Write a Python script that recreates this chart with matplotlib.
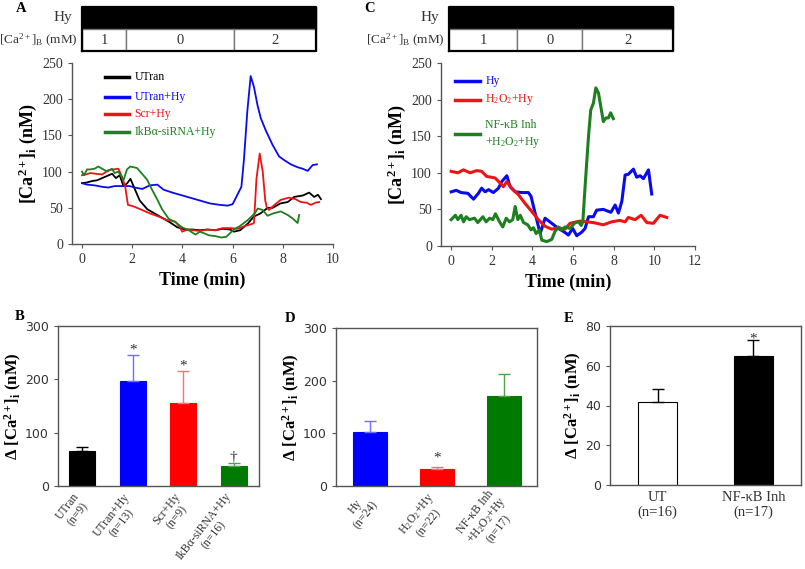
import numpy as np
import matplotlib
matplotlib.use("Agg")
import matplotlib.pyplot as plt

plt.rcParams.update({
    "font.family": ["Liberation Serif", "DejaVu Serif"],
    "mathtext.fontset": "custom",
    "mathtext.rm": "Liberation Serif",
    "mathtext.it": "Liberation Serif:italic",
    "mathtext.bf": "Liberation Serif:bold",
    "axes.linewidth": 1.0,
    "xtick.direction": "out",
    "ytick.direction": "out",
})

BLUE = "#0a0aee"
RED = "#ee1414"
GREEN = "#1e7f1e"
TXT = "#333333"
SPINE = "#555555"

# ---------------- panel A traces ----------------
a_black_t = [0, 0.2, 0.4, 0.6, 0.8, 1.0, 1.2, 1.35, 1.5, 1.65, 1.8, 1.93, 2.1, 2.3, 2.6, 2.9,
             3.2, 3.5, 3.8, 4.1, 4.4, 4.7, 5.0, 5.3, 5.6, 5.9, 6.05, 6.3, 6.6, 6.85, 7.1, 7.4,
             7.6, 7.9, 8.2, 8.45, 8.8, 9.05, 9.25, 9.4, 9.52]
a_black_y = [84, 85, 87, 88, 91, 94, 97, 91, 95, 80, 84, 90, 76, 60, 48, 42,
             36, 30, 23, 20, 20, 19, 20, 19, 21, 20, 17, 19, 28, 38, 42, 50,
             50, 56, 58, 65, 67, 71, 65, 68, 62]

a_blue_t = [0, 0.2, 0.5, 0.8, 1.05, 1.3, 1.6, 1.9, 2.1, 2.4, 2.7, 3.0, 3.25, 3.6, 4.0, 4.4,
            4.8, 5.1, 5.5, 5.8, 6.0, 6.19, 6.35, 6.45, 6.59, 6.72, 6.85, 6.99, 7.12, 7.32,
            7.59, 7.85, 8.05, 8.32, 8.59, 8.79, 8.99, 9.19, 9.36]
a_blue_y = [84, 82, 81, 79, 78, 80, 80, 80, 78, 76, 81, 82, 75, 71, 67, 63,
            59, 56, 54, 53, 55, 68, 79, 116, 185, 232, 217, 192, 174, 157,
            137, 121, 116, 110, 106, 104, 101, 109, 110]

a_red_t = [0, 0.15, 0.33, 0.55, 0.8, 1.05, 1.25, 1.45, 1.59, 1.72, 1.83, 2.05, 2.39, 2.72,
           3.05, 3.39, 3.72, 3.92, 3.99, 4.2, 4.4, 4.7, 5.0, 5.3, 5.6, 5.9, 6.2, 6.5, 6.8,
           6.85, 6.95, 7.08, 7.2, 7.3, 7.36, 7.45, 7.7, 7.92, 8.25, 8.5, 8.72, 8.95, 9.12,
           9.3, 9.45]
a_red_y = [95, 96, 98, 97, 96, 102, 103, 104, 93, 79, 54, 52, 47, 42,
           38, 33, 31, 22, 17, 20, 19, 18, 20, 19, 22, 22, 21, 25, 28,
           29, 90, 125, 100, 60, 51, 47, 55, 61, 64, 62, 58, 57, 54,
           57, 58]

a_green_t = [0, 0.08, 0.2, 0.33, 0.5, 0.65, 0.85, 1.0, 1.19, 1.3, 1.45, 1.65, 1.79, 1.92,
             2.19, 2.39, 2.59, 2.79, 2.99, 3.19, 3.45, 3.72, 3.99, 4.25, 4.52, 4.7, 4.85,
             5.05, 5.3, 5.55, 5.75, 5.9, 6.05, 6.3, 6.6, 6.9, 7.0, 7.2, 7.39, 7.6, 7.92,
             8.2, 8.4, 8.59, 8.65]
a_green_y = [100, 95, 103, 103, 104, 107, 103, 100, 104, 98, 100, 88, 103, 107,
             105, 97, 89, 75, 62, 48, 35, 30, 23, 19, 13, 17, 15,
             12, 11, 9, 10, 15, 20, 25, 33, 43, 49, 47, 39, 42, 45,
             40, 35, 29, 40]

a_legend = ["UTran", "UTran+Hy", "Scr+Hy", "IkB\u03b1-siRNA+Hy"]

# ---------------- panel C traces ----------------
c_blue_t = [0, 0.25, 0.49, 0.82, 1.1, 1.34, 1.5, 1.67, 1.84, 2.08, 2.33, 2.49, 2.74, 2.9,
            3.15, 3.48, 3.8, 3.93, 4.13, 4.38, 4.62, 4.95, 5.28, 5.52, 5.77, 5.98, 6.18,
            6.43, 6.59, 6.76, 7.0, 7.16, 7.49, 7.86, 8.07, 8.23, 8.4, 8.56, 8.72, 8.97,
            9.13, 9.3, 9.46, 9.71, 9.87]
c_blue_y = [74, 76, 73, 72, 64, 72, 79, 74, 77, 73, 79, 88, 96, 81,
            74, 73, 73, 68, 45, 17, 38, 31, 24, 20, 15, 24, 14,
            19, 24, 40, 40, 49, 50, 46, 56, 45, 61, 97, 98, 105,
            94, 96, 92, 104, 71]

c_red_t = [0, 0.33, 0.6, 0.93, 1.26, 1.5, 1.75, 2.16, 2.41, 2.57, 2.74, 2.98, 3.31, 3.64,
           3.97, 4.29, 4.62, 4.95, 5.28, 5.6, 5.85, 6.34, 7.0, 7.49, 7.9, 8.3, 8.56, 8.72,
           9.05, 9.35, 9.63, 9.95, 10.28, 10.61]
c_red_y = [102, 100, 104, 100, 103, 102, 95, 93, 86, 81, 88, 79, 70, 58,
           47, 36, 27, 23, 25, 23, 31, 34, 32, 29, 33, 35, 33, 39,
           36, 42, 32, 31, 42, 39]

c_green_t = [0, 0.21, 0.33, 0.49, 0.61, 0.74, 0.9, 1.15, 1.31, 1.56, 1.72, 1.89, 2.05, 2.18,
             2.38, 2.54, 2.71, 2.87, 3.03, 3.15, 3.28, 3.4, 3.56, 3.77, 3.93, 4.05, 4.18,
             4.34, 4.46, 4.71, 4.95, 5.11, 5.28, 5.44, 5.6, 5.85, 6.1, 6.27, 6.4, 6.48,
             6.59, 6.76, 6.87, 7.0, 7.12, 7.25, 7.36, 7.49, 7.62, 7.74, 7.85, 7.98]
c_green_y = [36, 42, 36, 42, 33, 40, 36, 38, 32, 40, 33, 38, 36, 44,
             33, 26, 38, 33, 36, 54, 36, 42, 32, 29, 22, 25, 17,
             22, 8, 6, 9, 20, 26, 22, 26, 24, 32, 33, 28, 33,
             81, 150, 186, 195, 216, 209, 191, 170, 175, 175, 182, 174]

c_legend = ["Hy", "H$_2$O$_2$+Hy", "NF-\u03baB Inh\n+H$_2$O$_2$+Hy"]

# ---------------- protocol headers ----------------
a_hy_span = (0.0, 9.32)
a_ca_edges = [0.0, 1.76, 6.04, 9.32]
c_hy_span = (-0.1, 10.92)
c_ca_edges = [-0.1, 3.25, 6.45, 10.92]
ca_levels = ["1", "0", "2"]

# ---------------- bar panels ----------------
b_labels = ["UTran\n(n=9)", "UTran+Hy\n(n=13)", "Scr+Hy\n(n=9)", "IkB\u03b1-siRNA+Hy\n(n=16)"]
b_means = [66, 197, 155, 38]
b_errs = [7, 48, 60, 5]
b_marks = ["", "*", "*", "\u2020"]

d_labels = ["Hy\n(n=24)", "H$_2$O$_2$+Hy\n(n=22)", "NF-\u03baB Inh\n+H$_2$O$_2$+Hy\n(n=17)"]
d_means = [103, 32, 171]
d_errs = [21, 4, 42]
d_marks = ["", "*", ""]

e_labels = ["UT\n(n=16)", "NF-\u03baB Inh\n(n=17)"]
e_means = [42, 65]
e_errs = [6.5, 8]
e_marks = ["", "*"]

W, H = 805, 569
fig = plt.figure(figsize=(W / 100, H / 100), dpi=100)


def px_axes(x0, y0, x1, y1):
    return fig.add_axes([x0 / W, 1 - y1 / H, (x1 - x0) / W, (y1 - y0) / H])


def style_trace_axes(ax, xmax):
    for s in ["top", "right"]:
        ax.spines[s].set_visible(False)
    for s in ["left", "bottom"]:
        ax.spines[s].set_color(SPINE)
    ax.set_ylim(0, 250)
    ax.set_yticks(range(0, 251, 50))
    ax.set_xticks(range(0, xmax + 1, 2))
    ax.tick_params(colors=SPINE, labelcolor=TXT, labelsize=10, length=3)
    ax.set_xlabel("Time (min)", fontsize=13, fontweight="bold", labelpad=4)
    ax.set_ylabel(r"[Ca$^{\mathbf{2+}}$]$_\mathbf{i}$ (nM)", fontsize=13,
                  fontweight="bold", labelpad=2)


def header(ax, xlim, hy_span, edges):
    ax.set_xlim(*xlim)
    ax.set_ylim(0, 1)
    ax.axis("off")
    ax.broken_barh([(hy_span[0], hy_span[1] - hy_span[0])], (0.5, 0.5),
                   facecolors="black", edgecolors="black")
    for i, lev in enumerate(ca_levels):
        ax.broken_barh([(edges[i], edges[i + 1] - edges[i])], (0, 0.5),
                       facecolors="white", edgecolors="#777777", linewidth=1)
        ax.text((edges[i] + edges[i + 1]) / 2, 0.25, lev, ha="center", va="center",
                fontsize=10.5, color=TXT)
    ax.plot([edges[0], edges[-1], edges[-1], edges[0], edges[0]], [0, 0, 1, 1, 0],
            color="black", lw=1.6, clip_on=False)
    ax.annotate("Hy", (edges[0], 0.75), xytext=(-7, 0), textcoords="offset points",
                ha="right", va="center", fontsize=11, color=TXT)
    ax.annotate(r"[Ca$^{2+}$]$_\mathrm{B}$ (mM)", (edges[0], 0.25), xytext=(-3, 0),
                textcoords="offset points", ha="right", va="center", fontsize=9.5, color=TXT)


def legend_block(ax, entries, colors, x0, x1, y_rows):
    for lab, col, yy in zip(entries, colors, y_rows):
        ax.plot([x0, x1], [yy, yy], color=col, lw=2.5, transform=ax.transAxes)
        ax.text(x1 + 0.02, yy, lab, color=col, fontsize=8.5, va="center",
                transform=ax.transAxes, linespacing=1.4)


# ---- panel A ----
axA = px_axes(72, 63, 333, 244)
axA.set_xlim(-0.4, 10)
axA.plot(a_black_t, a_black_y, color="black", lw=1.3)
axA.plot(a_blue_t, a_blue_y, color=BLUE, lw=1.3)
axA.plot(a_red_t, a_red_y, color=RED, lw=1.3)
axA.plot(a_green_t, a_green_y, color=GREEN, lw=1.3)
style_trace_axes(axA, 10)
legend_block(axA, a_legend, ["black", BLUE, RED, GREEN], 0.125, 0.22,
             [0.92, 0.81, 0.72, 0.62])

hA = px_axes(72, 7, 333, 51)
header(hA, (-0.4, 10), a_hy_span, a_ca_edges)

# ---- panel C ----
axC = px_axes(441, 63, 695, 246)
axC.set_xlim(-0.5, 12)
axC.plot(c_blue_t, c_blue_y, color=BLUE, lw=2.2)
axC.plot(c_red_t, c_red_y, color=RED, lw=2.2)
axC.plot(c_green_t, c_green_y, color=GREEN, lw=2.2)
style_trace_axes(axC, 12)
legend_block(axC, c_legend, [BLUE, RED, GREEN], 0.055, 0.155, [0.90, 0.80, 0.61])

hC = px_axes(441, 7, 695, 51)
header(hC, (-0.5, 12), c_hy_span, c_ca_edges)


# ---- bar panels ----
def bar_panel(ax, labels, means, errs, marks, colors, ecolors, ymax, ystep, xlim,
              width, rot, mark_pad):
    x = np.arange(len(means))
    ax.bar(x, means, width=width, color=colors, edgecolor=[c if c != "white" else "black"
                                                            for c in colors], linewidth=0.8)
    for xi, m, e, ec, mk in zip(x, means, errs, ecolors, marks):
        ax.errorbar(xi, m, yerr=[[0], [e]], fmt="none", ecolor=ec, elinewidth=1,
                    capsize=4, capthick=1)
        if mk:
            ax.text(xi, m + e + mark_pad, mk, ha="center", va="bottom", fontsize=11,
                    color=TXT)
    ax.set_xlim(*xlim)
    ax.set_ylim(0, ymax)
    ax.set_yticks(np.arange(0, ymax + 1, ystep))
    ax.set_xticks(x)
    for s in ax.spines.values():
        s.set_color(SPINE)
    ax.tick_params(axis="y", colors=SPINE, labelcolor=TXT, length=3, labelsize=10)
    for lab in ax.get_yticklabels():
        lab.set_fontfamily("DejaVu Sans")
        lab.set_fontsize(9)
    if rot:
        ax.tick_params(axis="x", length=0, labelcolor=TXT, pad=9)
        ax.set_xticklabels(labels, rotation=rot, ha="right", va="center",
                           rotation_mode="anchor", fontsize=8.5, multialignment="center",
                           linespacing=1.1)
    else:
        ax.tick_params(axis="x", length=0, labelcolor=TXT, pad=4)
        ax.set_xticklabels(labels, fontsize=10.5, multialignment="center")
    ax.set_ylabel("\u0394 " + r"[Ca$^{\mathbf{2+}}$]$_\mathbf{i}$ (nM)", fontsize=12,
                  fontweight="bold", labelpad=1)


axB = px_axes(58, 326, 259, 486)
bar_panel(axB, b_labels, b_means, b_errs, b_marks,
          ["black", "#0000ff", "#ff0000", "#007a00"],
          ["black", "#7070ff", "#ff7070", "#50a050"],
          300, 100, (-0.48, 3.5), 0.51, 52, -2)

axD = px_axes(336, 328, 537, 486)
bar_panel(axD, d_labels, d_means, d_errs, d_marks,
          ["#0000ff", "#ff0000", "#007a00"],
          ["#7070ff", "#ff7070", "#50a050"],
          300, 100, (-0.51, 2.49), 0.5, 52, 5)

axE = px_axes(610, 326, 801, 485)
bar_panel(axE, e_labels, e_means, e_errs, e_marks,
          ["white", "black"], ["black", "black"],
          80, 20, (-0.5, 1.5), 0.41, 0, -3)

# panel letters
for lab, (px, py) in {"A": (21, 8), "C": (370, 8), "B": (20, 316),
                      "D": (290, 318), "E": (569, 318)}.items():
    fig.text(px / W, 1 - py / H, lab, fontsize=10.5, fontweight="bold",
             ha="center", va="center")

fig.savefig("out.png", dpi=100)
